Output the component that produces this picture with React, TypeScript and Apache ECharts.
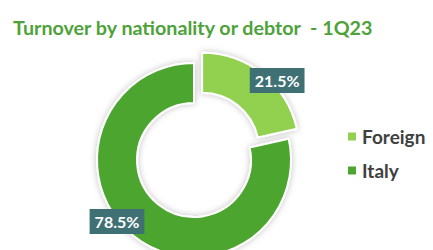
import React, { useEffect, useRef } from "react";
import * as echarts from "echarts";

const categories = ["Foreign", "Italy"];
const shares = [21.5, 78.5];
const colors = ["#92d050", "#4ca52e"];
const titleText = "Turnover by nationality or debtor  - 1Q23";

export default function App() {
  const ref = useRef<HTMLDivElement>(null);
  useEffect(() => {
    document.body.style.margin = "0";
    const chart = echarts.init(ref.current!, null, { renderer: "svg" });
    const labelShift = [
      { dx: 25, dy: -7 },
      { dx: -27, dy: -1 },
    ];
    chart.setOption({
      animation: false,
      backgroundColor: "#ffffff",
      title: {
        text: titleText,
        left: 8,
        top: 12,
        textStyle: {
          fontFamily: "Lato",
          fontWeight: "bold",
          fontSize: 19.7,
          color: "#4ea23a",
        },
      },
      legend: {
        orient: "vertical",
        left: 341,
        top: 122,
        icon: "rect",
        itemWidth: 10,
        itemHeight: 10,
        itemGap: 15,
        data: categories,
        textStyle: {
          fontFamily: "Lato",
          fontWeight: "bold",
          fontSize: 19,
          color: "#404040",
        },
      },
      series: [
        {
          type: "pie",
          center: [194, 160],
          radius: [57, 97],
          startAngle: 90,
          clockwise: true,
          selectedMode: "single",
          selectedOffset: 13,
          itemStyle: {
            borderColor: "#ffffff",
            borderWidth: 2,
            shadowBlur: 6,
            shadowColor: "rgba(0,0,0,0.25)",
          },
          label: {
            show: true,
            position: "inside",
            formatter: (p: any) => p.value.toFixed(1) + "%",
            backgroundColor: "#3f7074",
            color: "#ffffff",
            fontFamily: "Lato",
            fontWeight: "bold",
            fontSize: 16,
            padding: [5, 5, 4, 5],
          },
          labelLine: { show: false },
          labelLayout: (params: any) => labelShift[params.dataIndex],
          emphasis: { disabled: true },
          data: categories.map((name, i) => ({
            name,
            value: shares[i],
            selected: i === 0,
            itemStyle: { color: colors[i] },
          })),
        },
      ],
    });
    return () => chart.dispose();
  }, []);
  return <div ref={ref} style={{ width: 433, height: 250 }} />;
}
